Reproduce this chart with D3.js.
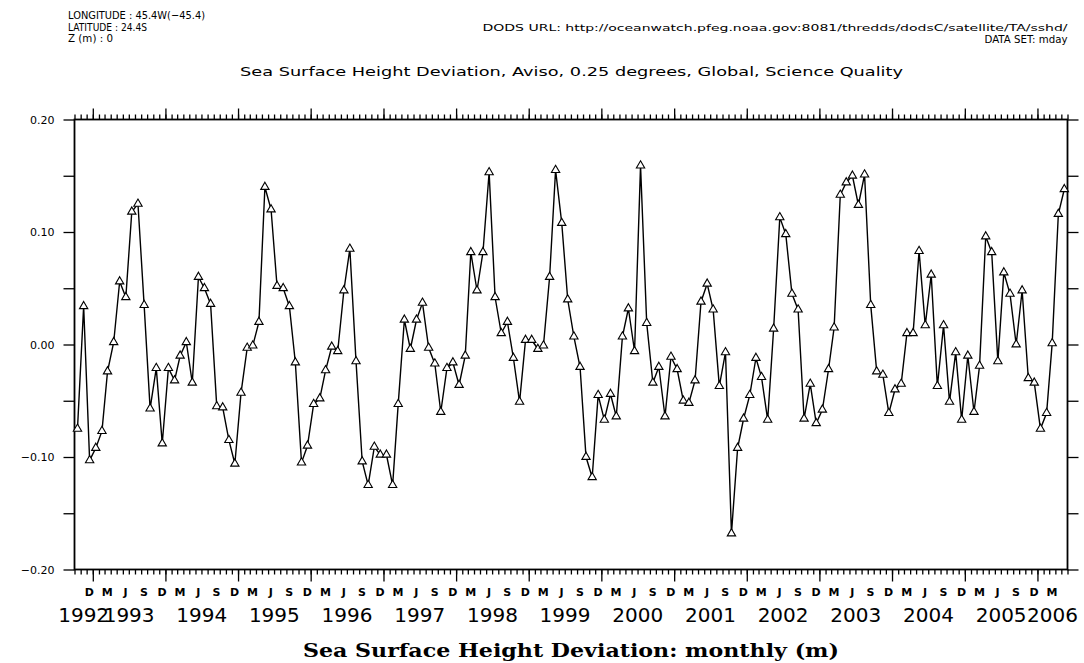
<!DOCTYPE html>
<html lang="en">
    <head>
        <meta charset="utf-8">
        <title>Sea Surface Height Deviation, monthly</title>
        <script type="text/javascript" src="https://cdn.jsdelivr.net/npm/d3@7/dist/d3.min.js"></script>
        <style type="text/css">
           body { margin: 0; background: #fff; }
           text { font-family: "DejaVu Sans", sans-serif; fill: black; }
        </style>
    </head>
    <body>
        <script type="text/javascript">

              var w = 1084;
              var h = 663;

              // monthly series, Oct 1992 .. May 2006 (m)
              var startMonth = [1992, 9];
              var ssh = [
                -0.075, 0.034, -0.103,
                -0.092, -0.077, -0.024, 0.002, 0.056, 0.042, 0.118, 0.125, 0.035, -0.057, -0.021, -0.088,
                -0.021, -0.032, -0.010, 0.002, -0.034, 0.060, 0.050, 0.036, -0.055, -0.056, -0.085, -0.106,
                -0.043, -0.003, -0.001, 0.020, 0.140, 0.120, 0.052, 0.050, 0.034, -0.016, -0.105, -0.090,
                -0.053, -0.048, -0.023, -0.002, -0.006, 0.048, 0.085, -0.015, -0.104, -0.125, -0.091, -0.098,
                -0.098, -0.125, -0.053, 0.022, -0.004, 0.022, 0.037, -0.003, -0.017, -0.060, -0.021, -0.016,
                -0.036, -0.010, 0.082, 0.048, 0.082, 0.153, 0.042, 0.010, 0.020, -0.012, -0.051, 0.004,
                0.004, -0.004, -0.001, 0.060, 0.155, 0.108, 0.040, 0.007, -0.020, -0.100, -0.118, -0.045,
                -0.067, -0.044, -0.064, 0.007, 0.032, -0.006, 0.159, 0.019, -0.034, -0.020, -0.064, -0.011,
                -0.022, -0.050, -0.052, -0.032, 0.038, 0.054, 0.031, -0.037, -0.007, -0.168, -0.092, -0.066,
                -0.045, -0.012, -0.029, -0.067, 0.014, 0.113, 0.098, 0.045, 0.031, -0.066, -0.035, -0.070,
                -0.058, -0.022, 0.015, 0.133, 0.144, 0.150, 0.124, 0.151, 0.035, -0.024, -0.027, -0.061,
                -0.040, -0.035, 0.010, 0.010, 0.083, 0.017, 0.062, -0.037, 0.017, -0.051, -0.007, -0.067,
                -0.010, -0.060, -0.019, 0.096, 0.082, -0.015, 0.064, 0.045, 0.000, 0.048, -0.030, -0.034,
                -0.075, -0.061, 0.001, 0.116, 0.138
              ];

              var yTicks = [-0.20, -0.10, 0.00, 0.10, 0.20];
              var yMinor = [-0.15, -0.05, 0.05, 0.15];
              var monthLetters = { 11: "D", 2: "M", 5: "J", 8: "S" };

              var headerLeft = ["LONGITUDE : 45.4W(\u221245.4)", "LATITUDE : 24.4S", "Z (m) : 0"];
              var headerRight = ["DODS URL: http://oceanwatch.pfeg.noaa.gov:8081/thredds/dodsC/satellite/TA/sshd/", "DATA SET: mday"];
              var title = "Sea Surface Height Deviation, Aviso, 0.25 degrees, Global, Science Quality";
              var xTitle = "Sea Surface Height Deviation: monthly (m)";

              var data = ssh.map(function(v, i) {
                  return { date: new Date(Date.UTC(startMonth[0], startMonth[1] + i, 16)), value: v };
              });

              var x0 = new Date(Date.UTC(1992, 9, 1));
              var x1 = new Date(Date.UTC(2006, 5, 1));

              var pL = 74.5, pR = 1067.5, pT = 119.5, pB = 569.5;

              var x = d3.scaleUtc().domain([x0, x1]).range([pL, pR]);
              var y = d3.scaleLinear().domain([-0.2, 0.2]).range([pB, pT]);

              var svg = d3.select("body")
                          .append("svg")
                          .attr("width", w)
                          .attr("height", h);

              // header
              var hl = [137, 79, 45];
              svg.selectAll("text.hl")
                 .data(headerLeft)
                 .enter()
                 .append("text")
                 .attr("class", "hl")
                 .attr("x", 68)
                 .attr("y", function(d, i) { return 19 + i * 11.5; })
                 .attr("font-size", 11)
                 .attr("textLength", function(d, i) { return hl[i]; })
                 .attr("lengthAdjust", "spacingAndGlyphs")
                 .text(function(d) { return d; });

              var hr = [585, 83];
              svg.selectAll("text.hr")
                 .data(headerRight)
                 .enter()
                 .append("text")
                 .attr("class", "hr")
                 .attr("x", function(d, i) { return pR - hr[i]; })
                 .attr("y", function(d, i) { return 31 + i * 11.5; })
                 .attr("font-size", function(d, i) { return i == 0 ? 9 : 11; })
                 .attr("textLength", function(d, i) { return hr[i]; })
                 .attr("lengthAdjust", "spacingAndGlyphs")
                 .text(function(d) { return d; });

              svg.append("text")
                 .attr("x", 240)
                 .attr("y", 76)
                 .attr("font-size", 12)
                 .attr("textLength", 663)
                 .attr("lengthAdjust", "spacingAndGlyphs")
                 .text(title);

              // ticks on all four sides
              var months = d3.utcMonth.range(x0, d3.utcDay.offset(x1, 1));
              var years = d3.utcYear.range(x0, x1);

              svg.append("g")
                 .attr("transform", "translate(0," + pB + ")")
                 .call(d3.axisBottom(x).tickValues(months).tickSize(5).tickFormat(""))
                 .call(function(g) { g.select(".domain").remove(); });
              svg.append("g")
                 .attr("transform", "translate(0," + pB + ")")
                 .call(d3.axisBottom(x).tickValues(years).tickSize(12).tickFormat(""))
                 .call(function(g) { g.select(".domain").remove(); });
              svg.append("g")
                 .attr("transform", "translate(0," + pT + ")")
                 .call(d3.axisTop(x).tickValues(months).tickSize(5).tickFormat(""))
                 .call(function(g) { g.select(".domain").remove(); });
              svg.append("g")
                 .attr("transform", "translate(0," + pT + ")")
                 .call(d3.axisTop(x).tickValues(years).tickSize(11).tickFormat(""))
                 .call(function(g) { g.select(".domain").remove(); });

              var fmt = function(v) { return d3.format(".2f")(v).replace("-", "\u2212"); };

              svg.append("g")
                 .attr("transform", "translate(" + pL + ",0)")
                 .call(d3.axisLeft(y).tickValues(yTicks.concat(yMinor)).tickSize(11).tickPadding(9)
                       .tickFormat(function(d) { return yTicks.indexOf(d) >= 0 ? fmt(d) : ""; }))
                 .call(function(g) {
                     g.select(".domain").remove();
                     g.selectAll("text").attr("font-size", 11).attr("font-family", "DejaVu Sans");
                 });
              svg.append("g")
                 .attr("transform", "translate(" + pR + ",0)")
                 .call(d3.axisRight(y).tickValues(yTicks.concat(yMinor)).tickSize(11).tickFormat(""))
                 .call(function(g) { g.select(".domain").remove(); });

              svg.selectAll(".tick line").attr("stroke", "black").attr("stroke-width", 1.3);

              // month letters under the axis
              var midMonths = months.filter(function(d) {
                  return monthLetters[d.getUTCMonth()] !== undefined && d < x1;
              }).map(function(d) { return d3.utcDay.offset(d, 14); });

              svg.selectAll("text.mon")
                 .data(midMonths)
                 .enter()
                 .append("text")
                 .attr("class", "mon")
                 .attr("x", function(d) { return x(d); })
                 .attr("y", 596)
                 .attr("text-anchor", "middle")
                 .attr("font-size", 11)
                 .attr("font-weight", "bold")
                 .text(function(d) { return monthLetters[d.getUTCMonth()]; });

              // year labels, centred on the visible part of each year
              var yearStarts = d3.utcYear.range(d3.utcYear.floor(x0), x1);
              svg.selectAll("text.yr")
                 .data(yearStarts)
                 .enter()
                 .append("text")
                 .attr("class", "yr")
                 .attr("x", function(d) {
                     var a = d < x0 ? x0 : d;
                     var e = d3.utcYear.offset(d, 1);
                     var b = e > x1 ? x1 : e;
                     return (x(a) + x(b)) / 2;
                 })
                 .attr("y", 622)
                 .attr("text-anchor", "middle")
                 .attr("font-size", 20)
                 .text(function(d) { return d.getUTCFullYear(); });

              svg.append("text")
                 .attr("x", (pL + pR) / 2)
                 .attr("y", 657)
                 .attr("text-anchor", "middle")
                 .attr("font-weight", "bold")
                 .attr("font-size", 19)
                 .attr("textLength", 536)
                 .attr("lengthAdjust", "spacingAndGlyphs")
                 .style("font-family", "DejaVu Serif")
                 .text(xTitle);

              // frame
              svg.append("rect")
                 .attr("x", pL)
                 .attr("y", pT)
                 .attr("width", pR - pL)
                 .attr("height", pB - pT)
                 .attr("fill", "none")
                 .attr("stroke", "black")
                 .attr("stroke-width", 1.8);

              // series
              var line = d3.line()
                           .x(function(d) { return x(d.date); })
                           .y(function(d) { return y(d.value); });

              svg.append("path")
                 .datum(data)
                 .attr("fill", "none")
                 .attr("stroke", "black")
                 .attr("stroke-width", 1.4)
                 .attr("d", line);

              var tri = d3.symbol().type(d3.symbolTriangle).size(30);

              svg.selectAll("path.pt")
                 .data(data)
                 .enter()
                 .append("path")
                 .attr("class", "pt")
                 .attr("transform", function(d) { return "translate(" + x(d.date) + "," + y(d.value) + ")"; })
                 .attr("d", tri)
                 .attr("fill", "white")
                 .attr("stroke", "black")
                 .attr("stroke-width", 1.1);

        </script>
    </body>
</html>
